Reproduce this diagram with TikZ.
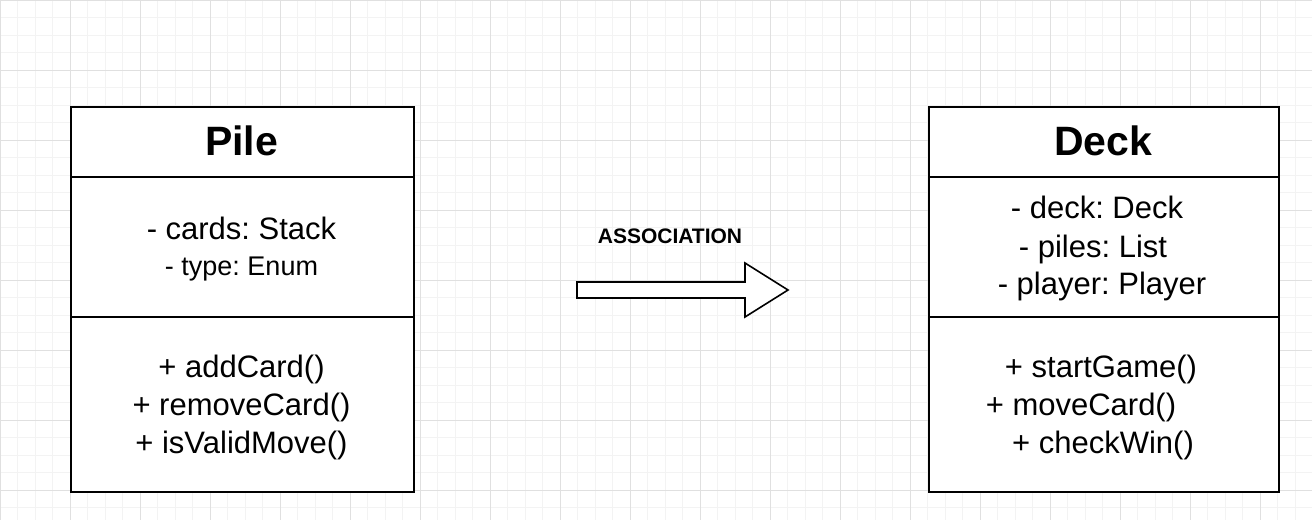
\documentclass[tikz,border=0pt]{standalone}
\usepackage{fontspec}
\setmainfont{Liberation Sans}
\frenchspacing
\definecolor{minorgrid}{HTML}{F3F3F3}
\definecolor{majorgrid}{HTML}{E0E0E0}
\tikzset{
  compartment/.style={draw=black, line width=1.6pt, fill=white, rectangle, inner sep=0pt, anchor=north west},
  titletext/.style={anchor=base, inner sep=0pt, font=\fontsize{41}{49}\selectfont\bfseries},
  membertext/.style={anchor=base, inner sep=0pt, font=\fontsize{31}{37}\selectfont},
  smalltext/.style={anchor=base, inner sep=0pt, font=\fontsize{27}{32}\selectfont},
  labeltext/.style={anchor=base, inner sep=0pt, font=\fontsize{21}{25}\selectfont\bfseries},
  blockarrow/.style={draw=black, line width=1.6pt, fill=white, line join=miter}
}
\begin{document}
\begin{tikzpicture}[x=1pt, y=-1pt]
\useasboundingbox (0,0) rectangle (1312,520);
\fill[white] (0,0) rectangle (1312,520);
% grid
\foreach \i in {0,...,75} {
  \draw[minorgrid, line width=1pt] ({\i*17.5},0) -- ({\i*17.5},520);
}
\foreach \j in {0,...,30} {
  \draw[minorgrid, line width=1pt] (0,{\j*17.5}) -- (1312,{\j*17.5});
}
\foreach \i in {0,...,18} {
  \draw[majorgrid, line width=1pt] ({\i*70},0) -- ({\i*70},520);
}
\foreach \j in {0,...,7} {
  \draw[majorgrid, line width=1pt] (0,{\j*70}) -- (1312,{\j*70});
}

% Pile class
\node[compartment, minimum width=343pt, minimum height=70pt] (pilehead) at (70,106) {};
\node[compartment, minimum width=343pt, minimum height=140pt] (pileattr) at (70,176) {};
\node[compartment, minimum width=343pt, minimum height=175pt] (pilemeth) at (70,316) {};
\node[titletext] (piletitle) at (241.5,155) {Pile};
\node[membertext] (pilecards) at (241.5,239) {- cards: Stack};
\node[smalltext] (piletype) at (241.5,275) {- type: Enum};
\node[membertext] (pileadd) at (241.5,377) {+ addCard()};
\node[membertext] (pileremove) at (241.5,415) {+ removeCard()};
\node[membertext] (pilevalid) at (241.5,453) {+ isValidMove()};

% Deck class
\node[compartment, minimum width=350pt, minimum height=70pt] (deckhead) at (928,106) {};
\node[compartment, minimum width=350pt, minimum height=140pt] (deckattr) at (928,176) {};
\node[compartment, minimum width=350pt, minimum height=175pt] (deckmeth) at (928,316) {};
\node[titletext] (decktitle) at (1103,155) {Deck};
\node[membertext] (deckdeck) at (1097,218) {- deck: Deck};
\node[membertext] (deckpiles) at (1093,257) {- piles: List};
\node[membertext] (deckplayer) at (1102,294) {- player: Player};
\node[membertext] (deckstart) at (1101,377) {+ startGame()};
\node[membertext] (deckmove) at (1081,415) {+ moveCard()};
\node[membertext] (deckwin) at (1103,453) {+ checkWin()};

% association arrow
\node[labeltext] (assoclabel) at (670,243) {ASSOCIATION};
\coordinate (tail) at (577,290);
\coordinate (tip) at (788,290);
\draw[blockarrow] (577,282) -- (745,282) -- (745,263) -- (tip) -- (745,317) -- (745,298) -- (577,298) -- cycle;
\end{tikzpicture}
\end{document}
